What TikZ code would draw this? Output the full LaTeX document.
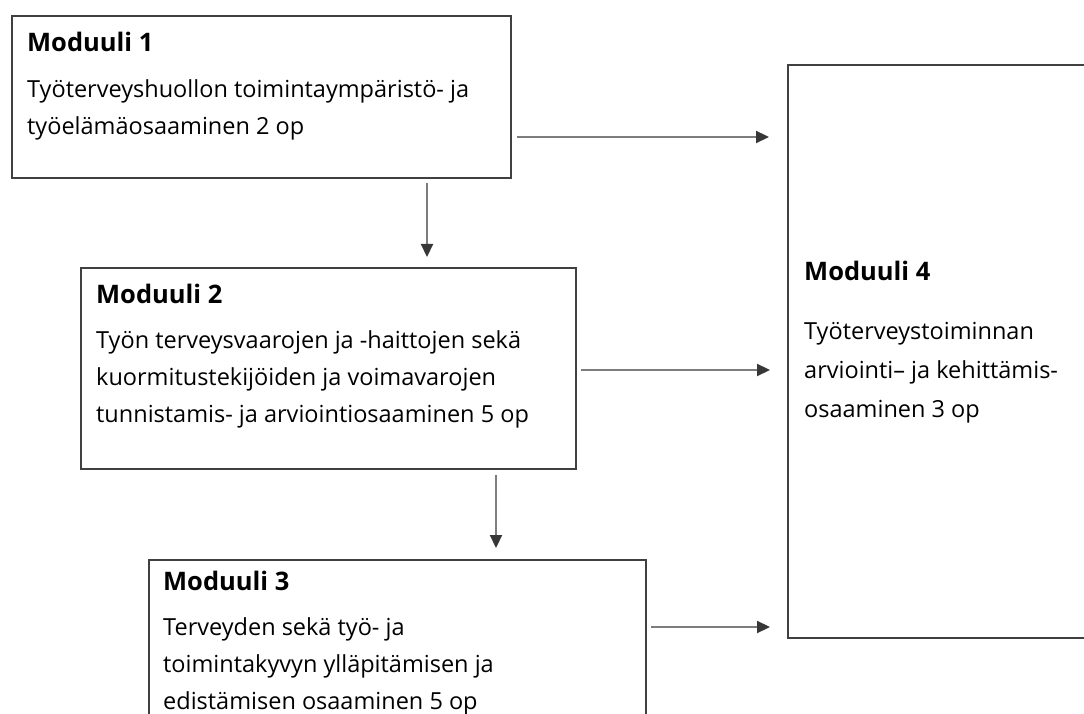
\documentclass[tikz,border=0pt]{standalone}
\usepackage{fontspec}
\setmainfont{Open Sans}
\usetikzlibrary{positioning}
\usetikzlibrary{arrows.meta}
\definecolor{boxline}{RGB}{64,64,64}
\definecolor{shaft}{RGB}{125,125,125}
\definecolor{tiphead}{RGB}{55,55,55}
\newcommand{\modtitle}[1]{{\fontsize{25.5}{37}\selectfont\bfseries #1}}
\tikzset{
	modbox/.style={draw=boxline, rectangle, line width=1.6pt, inner sep=0pt, anchor=north west},
	modtext/.style={inner sep=0pt, align=left, text=black, font=\fontsize{23.5}{37}\selectfont},
	flow/.style={draw=shaft, line width=2.2pt, -{Triangle[length=13pt, width=12pt, color=tiphead]}},
}

\begin{document}
\begin{tikzpicture}[x=1pt, y=1pt]
	\useasboundingbox (0,0) rectangle (1084,713);
	\clip (0,0) rectangle (1084,713);
	
	% module boxes
	\node (m1) [modbox, minimum width=499pt, minimum height=162pt] at (11,698) {};
	\node (m2) [modbox, minimum width=495pt, minimum height=201pt] at (80,446) {};
	\node (m3) [modbox, minimum width=497pt, minimum height=180pt] at (148,154) {};
	\node (m4) [modbox, minimum width=330pt, minimum height=573pt] at (787,649) {};
	
	% texts
	\node (t1) [modtext, below right=17pt and 16pt of m1.north west] {\modtitle{Moduuli 1}\\[9pt]Työterveyshuollon toimintaympäristö- ja\\työelämäosaaminen 2 op};
	\node (t2) [modtext, below right=17pt and 16pt of m2.north west] {\modtitle{Moduuli 2}\\[8pt]Työn terveysvaarojen ja -haittojen sekä\\kuormitustekijöiden ja voimavarojen\\tunnistamis- ja arviointiosaaminen 5 op};
	\node (t3) [modtext, below right=12pt and 15pt of m3.north west] {\modtitle{Moduuli 3}\\[8pt]Terveyden sekä työ- ja\\toimintakyvyn ylläpitämisen ja\\edistämisen osaaminen 5 op};
	\node (t4) [modtext, font=\fontsize{23.5}{39}\selectfont, below right=197pt and 17pt of m4.north west] {\modtitle{Moduuli 4}\\[20pt]Työterveystoiminnan\\arviointi– ja kehittämis-\\osaaminen 3 op};
	
	% connectors
	\coordinate (a14) at (517,576);
	\coordinate (a12) at (427,530);
	\coordinate (a24) at (581,343);
	\coordinate (a23) at (496,238);
	\coordinate (a34) at (651,86);
	\begin{scope}[flow]
		\draw[shorten >=18pt] (a14) -- (a14 -| m4.west);
		\draw[shorten >=10pt] (a12) -- (a12 |- m2.north);
		\draw[shorten >=17pt] (a24) -- (a24 -| m4.west);
		\draw[shorten >=11pt] (a23) -- (a23 |- m3.north);
		\draw[shorten >=17pt] (a34) -- (a34 -| m4.west);
	\end{scope}
\end{tikzpicture}
\end{document}
